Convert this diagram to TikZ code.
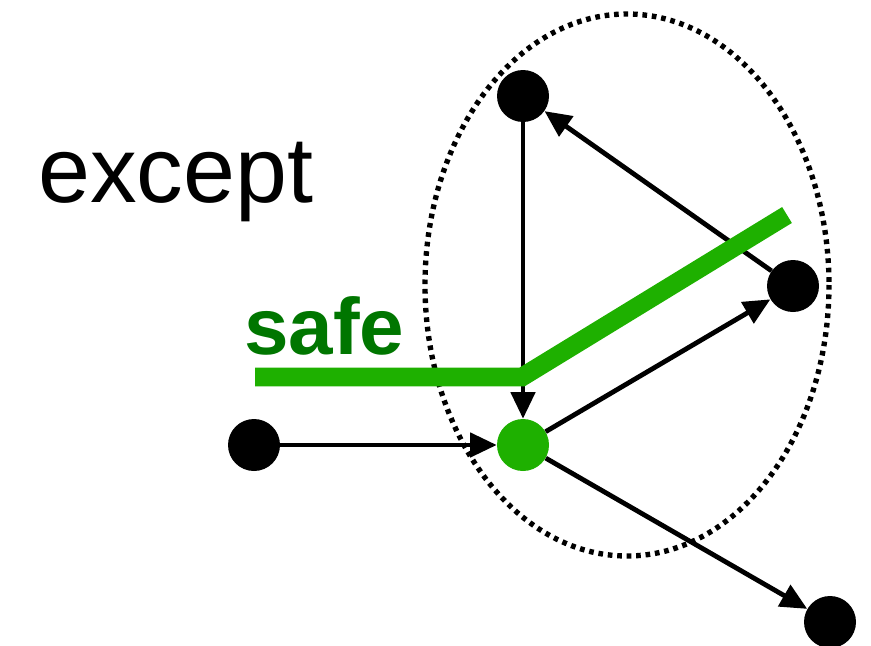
\documentclass[tikz,border=0pt]{standalone}
\usepackage{fontspec}
\setmainfont{Liberation Sans}
\usetikzlibrary{arrows.meta}
\definecolor{bandgreen}{RGB}{30,176,0}
\definecolor{textgreen}{RGB}{0,118,0}
\begin{document}
\begin{tikzpicture}[x=0.75pt,y=-0.75pt,
  vtx/.style={circle,fill=black,inner sep=0pt,minimum size=39pt},
  gvtx/.style={circle,fill=bandgreen,inner sep=0pt,minimum size=39pt},
  edge/.style={line width=3.6pt,-{Triangle[length=20pt,width=18pt]}},
  band/.style={line width=14pt,bandgreen,line cap=butt,line join=miter},
  ring/.style={line width=4pt,dash pattern=on 3.5pt off 3.6pt}]
\useasboundingbox (0,0) rectangle (871,646);
\draw[ring] (627,285) ellipse [x radius=202, y radius=271];
\node[vtx] (top) at (523,96) {};
\node[vtx] (right) at (793,286) {};
\node[gvtx] (mid) at (523,445) {};
\node[vtx] (left) at (254,445) {};
\node[vtx] (low) at (830,622) {};
\draw[edge] (left) -- (mid);
\draw[edge] (top) -- (mid);
\draw[edge] (mid) -- (right);
\draw[edge] (right) -- (top);
\draw[edge] (mid) -- (low);
\coordinate (bandL) at (255,377);
\coordinate (bandK) at (522,377);
\coordinate (bandR) at (787,215);
\draw[band] (bandL) -- (bandK) -- (bandR);
\node[anchor=base west,inner sep=0pt,font=\fontsize{70}{70}\selectfont] (except) at (38,202) {except};
\node[anchor=base west,inner sep=0pt,text=textgreen,font=\bfseries\fontsize{60}{60}\selectfont] (safe) at (244,354) {safe};
\end{tikzpicture}
\end{document}
